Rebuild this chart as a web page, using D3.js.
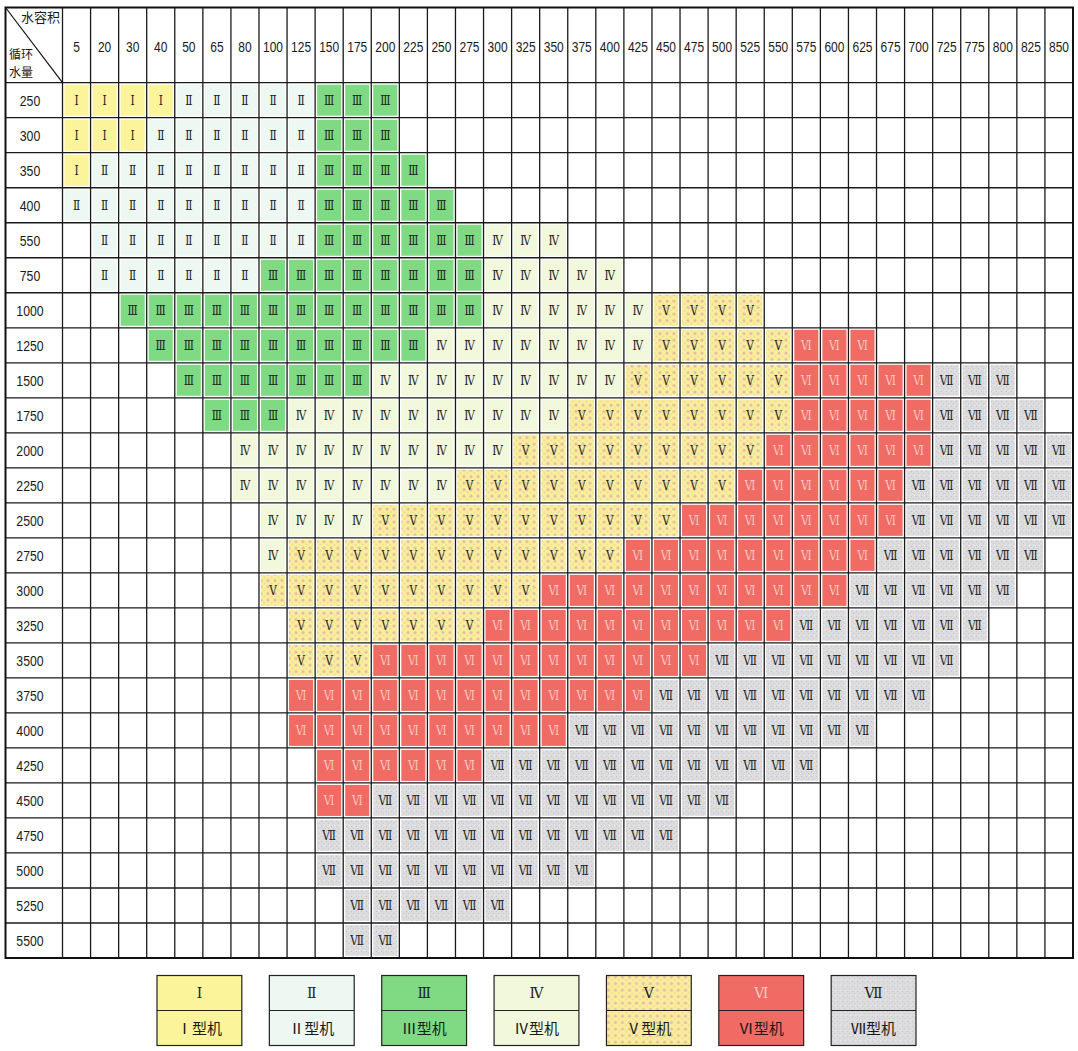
<!DOCTYPE html>
<html>
<head>
<meta charset="utf-8">
<script src="https://cdnjs.cloudflare.com/ajax/libs/d3/7.8.5/d3.min.js"></script>
<style>
  body { margin: 0; background: #fff; }
  svg { display: block; }
  .num { font-family: "Liberation Sans", Arial, sans-serif; font-size: 15px; fill: #1a1a1a; }
  .rom { font-family: "DejaVu Serif", "Liberation Serif", serif; font-size: 12.5px; }
  .cjk { font-family: "Noto Sans CJK SC", sans-serif; font-size: 13px; fill: #1a1a1a; }
</style>
</head>
<body>
<svg width="1078" height="1051"></svg>
<script>
// column header: 水容积
const colLabels = ["5","20","30","40","50","65","80","100","125","150","175","200","225","250","275","300","325",
  "350","375","400","425","450","475","500","525","550","575","600","625","675","700","725","775","800","825","850"];
// row header: 循环水量
const rowLabels = ["250","300","350","400","550","750","1000","1250","1500","1750","2000","2250","2500",
  "2750","3000","3250","3500","3750","4000","4250","4500","4750","5000","5250","5500"];
// machine type per cell (1..7), '.' = empty; spaces only to make runs readable
const cellTypes = [
  "1111 22222 333 ........ ........ ........",
  "111 222222 333 ........ ........ ........",
  "1 22222222 3333 ........ ........ .......",
  "222222222 33333 ........ ........ ......",
  ". 22222222 333333 444 ........ ........ ..",
  ". 222222 33333333 44444 ........ ........",
  ".. 3333333333333 444444 5555 ........ ...",
  "... 3333333333 44444444 55555 666 .......",
  ".... 3333333 444444444 555555 66666 777 ..",
  "..... 333 4444444444 55555555 66666 7777 .",
  "...... 4444444444 555555555 666666 77777",
  "...... 44444444 5555555555 666666 777777",
  "....... 4444 55555555555 66666666 777777",
  "....... 4 555555555555 666666666 777777 .",
  "....... 5555555555 66666666666 777777 ..",
  "........ 5555555 66666666666 7777777 ...",
  "........ 555 666666666666 777777777 ....",
  "........ 6666666666666 7777777777 .....",
  "........ 6666666666 77777777777 .......",
  "......... 666666 777777777777 .........",
  "......... 66 7777777777777 ........ ....",
  "......... 7777777777777 ........ ......",
  "......... 7777777777 ........ .........",
  ".......... 777777 ........ ........ ....",
  ".......... 77 ........ ........ ........"
];
const typeNames = ["Ⅰ","Ⅱ","Ⅲ","Ⅳ","Ⅴ","Ⅵ","Ⅶ"];
const legendLabels = ["Ⅰ型机","Ⅱ型机","Ⅲ型机","Ⅳ型机","Ⅴ型机","Ⅵ型机","Ⅶ型机"];

const typeFill = ["#fbf49a","#eef8f3","#80da84","#f2f8dc","url(#patV)","#f06b63","url(#patVII)"];
const typeText = ["#222","#222","#222","#222","#222","#f7c9c2","#222"];

const svg = d3.select('svg');
const gLeft = 5.5, headRight = 62.5, gRight = 1073, gTop = 7.5, headBottom = 82.7, gBottom = 958;

// patterns for the dotted V cells and the speckled VII cells
const defs = svg.append('defs');
const pV = defs.append('pattern').attr('id','patV').attr('patternUnits','userSpaceOnUse')
  .attr('width',7).attr('height',6.5);
pV.append('rect').attr('width',7).attr('height',6.5).attr('fill','#f8ef98');
pV.append('circle').attr('cx',2).attr('cy',2).attr('r',1.6).attr('fill','#e9bcae');
pV.append('circle').attr('cx',5.5).attr('cy',5).attr('r',1.1).attr('fill','#efd9a2');
const pVII = defs.append('pattern').attr('id','patVII').attr('patternUnits','userSpaceOnUse')
  .attr('width',5).attr('height',5);
pVII.append('rect').attr('width',5).attr('height',5).attr('fill','#dcdcde');
pVII.append('rect').attr('x',1).attr('y',1).attr('width',1).attr('height',1).attr('fill','#c4c4c8');
pVII.append('rect').attr('x',3).attr('y',3).attr('width',1).attr('height',1).attr('fill','#cacacc');
pVII.append('rect').attr('x',4).attr('y',0).attr('width',1).attr('height',1).attr('fill','#ececee');

const x = d3.scaleBand().domain(colLabels).range([headRight, gRight]);
const y = d3.scaleBand().domain(rowLabels).range([headBottom, gBottom]);

const cells = [];
cellTypes.forEach((s, r) => {
  s.replace(/ /g, '').split('').forEach((ch, c) => {
    if (ch !== '.' && colLabels[c]) cells.push({ row: rowLabels[r], col: colLabels[c], t: +ch - 1 });
  });
});

const inset = 2;
const g = svg.append('g');
g.selectAll('rect.cell').data(cells).join('rect').attr('class','cell')
  .attr('x', d => x(d.col) + inset)
  .attr('y', d => y(d.row) + inset)
  .attr('width', x.bandwidth() - inset * 2)
  .attr('height', y.bandwidth() - inset * 2)
  .attr('fill', d => typeFill[d.t]);
g.selectAll('text.rom').data(cells).join('text').attr('class','rom')
  .attr('transform', d => `translate(${x(d.col) + x.bandwidth() / 2},${y(d.row) + y.bandwidth() / 2 + 4.5}) scale(0.85,1)`)
  .attr('text-anchor','middle')
  .attr('fill', d => typeText[d.t])
  .text(d => typeNames[d.t]);

// grid lines
const lines = svg.append('g').attr('stroke','#1a1a1a').attr('stroke-width',1.3);
const vx = [headRight].concat(colLabels.map(c => x(c) + x.bandwidth()));
lines.selectAll('line.v').data(vx).join('line')
  .attr('x1', d => d).attr('x2', d => d).attr('y1', gTop).attr('y2', gBottom);
const hy = [headBottom].concat(rowLabels.map(r => y(r) + y.bandwidth()));
lines.selectAll('line.h').data(hy).join('line')
  .attr('x1', gLeft).attr('x2', gRight).attr('y1', d => d).attr('y2', d => d);
svg.append('rect').attr('x', gLeft).attr('y', gTop).attr('width', gRight - gLeft).attr('height', gBottom - gTop)
  .attr('fill','none').attr('stroke','#111').attr('stroke-width',2);
// diagonal of the corner cell
svg.append('line').attr('x1', gLeft).attr('y1', gTop).attr('x2', headRight).attr('y2', headBottom)
  .attr('stroke','#111').attr('stroke-width',1.2);

// headers (narrowed like the condensed print face)
svg.append('g').selectAll('text').data(colLabels).join('text').attr('class','num')
  .attr('transform', d => `translate(${x(d) + x.bandwidth() / 2},52) scale(0.8,1)`)
  .attr('text-anchor','middle').text(d => d);
svg.append('g').selectAll('text').data(rowLabels).join('text').attr('class','num')
  .attr('transform', d => `translate(30,${y(d) + y.bandwidth() / 2 + 5.5}) scale(0.82,1)`)
  .attr('text-anchor','middle').text(d => d);
svg.append('text').attr('class','cjk').attr('x', 60).attr('y', 22).attr('text-anchor','end').text('水容积');
svg.append('text').attr('class','cjk').style('font-size','12px').attr('x', 9).attr('y', 59).text('循环');
svg.append('text').attr('class','cjk').style('font-size','12px').attr('x', 9).attr('y', 77).text('水量');

// legend
const lx = d3.scaleBand().domain(typeNames).range([157, 916]).paddingInner(0.245);
const ly0 = 975.5, ly1 = 1010.5, ly2 = 1045.5;
const leg = svg.append('g').selectAll('g').data(typeNames).join('g')
  .attr('transform', d => `translate(${lx(d)},0)`);
leg.append('rect').attr('y', ly0).attr('width', lx.bandwidth()).attr('height', ly2 - ly0)
  .attr('fill', (d, i) => typeFill[i]).attr('stroke','#222').attr('stroke-width',1.2);
leg.append('line').attr('x1',0).attr('x2', lx.bandwidth()).attr('y1', ly1).attr('y2', ly1)
  .attr('stroke','#222').attr('stroke-width',1.2);
leg.append('text').attr('class','rom').style('font-size','14px')
  .attr('x', lx.bandwidth() / 2).attr('y', (ly0 + ly1) / 2 + 5).attr('text-anchor','middle')
  .attr('fill', (d, i) => typeText[i]).text(d => d);
leg.append('text').attr('class','cjk').style('font-size','15px')
  .attr('x', lx.bandwidth() / 2).attr('y', (ly1 + ly2) / 2 + 5.5).attr('text-anchor','middle')
  .attr('fill', (d, i) => i === 5 ? '#f7d0ca' : '#333')
  .text((d, i) => legendLabels[i]);
</script>
</body>
</html>
